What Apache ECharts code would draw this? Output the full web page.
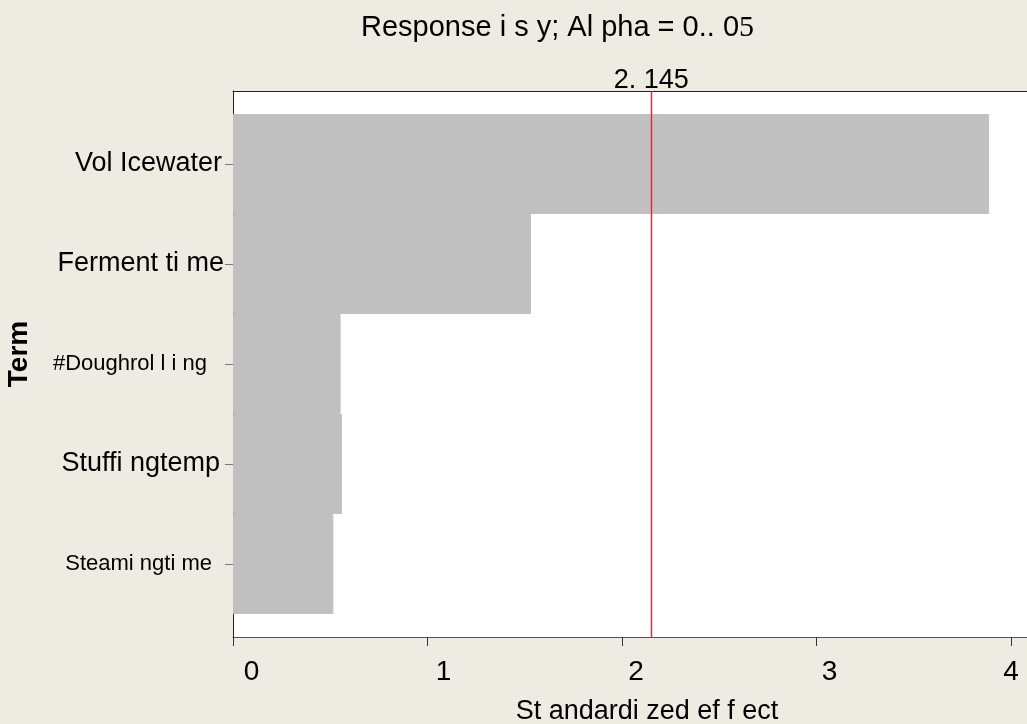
<!DOCTYPE html>
<html>
<head>
<meta charset="utf-8">
<script src="https://cdn.jsdelivr.net/npm/echarts@6/dist/echarts.min.js"></script>
<style>
html,body{margin:0;padding:0;background:#EEEBE2;}
#chart{width:1027px;height:724px;}
</style>
</head>
<body>
<div id="chart"></div>
<script>
// ---- data ----
const categories = ['Vol Icewater', 'Ferment ti me', '#Doughrol l i ng', 'Stuffi ngtemp', 'Steami ngti me'];
const effects = [3.887, 1.532, 0.553, 0.560, 0.516];
const xTicks = [0, 1, 2, 3, 4];
const xTickLabels = ['0', '1', '2', '3', '4'];
const critical = 2.145;
const criticalLabel = '2. 145';
const titleMain = 'Response i s y; Al pha = 0.. 0';
const titleTail = '5';
const xName = 'St andardi zed ef f ect';
const yName = 'Term';

// ---- styles ----
const FONT = 'Liberation Sans, Arial, sans-serif';
const RED = '#E8203C';
const xMax = 4.082;
const yLabelSizes = [27, 27, 22, 27, 22];
const yLabelPadRight = [2, 0, 17, 4, 12];
const xLabelPadLeft = [37, 32, 28, 26, 0];

const yRich = {};
categories.forEach((c, i) => {
  yRich['c' + i] = {fontFamily: FONT, fontSize: yLabelSizes[i], color: '#000', padding: [0, yLabelPadRight[i], 0, 0]};
});
const xRich = {};
xTicks.forEach((t, i) => {
  xRich['x' + i] = {fontFamily: FONT, fontSize: 28, color: '#000', padding: [0, 0, 0, xLabelPadLeft[i]]};
});

const chart = echarts.init(document.getElementById('chart'), null, {renderer: 'canvas'});
const option = {
  backgroundColor: '#EEEBE2',
  animation: false,
  title: {
    text: '{a|' + titleMain + '}{b|' + titleTail + '}',
    left: 361, top: 13, padding: 0,
    textStyle: {
      fontWeight: 'normal',
      rich: {
        a: {fontFamily: FONT, fontSize: 29, fontWeight: 'normal', color: '#000'},
        b: {fontFamily: 'Liberation Serif, Times New Roman, serif', fontSize: 30, fontWeight: 'normal', color: '#000'}
      }
    }
  },
  grid: [
    {left: 233, right: 0, top: 91, bottom: 87, show: true, backgroundColor: '#ffffff', borderWidth: 0, outerBoundsMode: 'none', containLabel: false},
    {left: 233, right: 0, top: 114, height: 500, outerBoundsMode: 'none', containLabel: false}
  ],
  xAxis: [
    {
      gridIndex: 0, type: 'value', min: 0, max: xMax, interval: 1, position: 'bottom',
      axisLine: {show: true, lineStyle: {color: '#555', width: 1}},
      axisTick: {show: true, length: 9, customValues: xTicks, lineStyle: {color: '#333', width: 1}},
      splitLine: {show: false},
      axisLabel: {
        customValues: xTicks,
        margin: 21,
        formatter: function (v) {
          const i = xTicks.indexOf(v);
          return i < 0 ? '' : '{x' + i + '|' + xTickLabels[i] + '}';
        },
        rich: xRich
      },
      name: xName, nameLocation: 'middle', nameGap: 61,
      nameTextStyle: {fontFamily: FONT, fontSize: 27, color: '#000', padding: [0, 0, 0, 34]}
    },
    {
      gridIndex: 0, type: 'value', min: 0, max: xMax, position: 'top',
      axisLine: {show: true, lineStyle: {color: '#222', width: 1}},
      axisTick: {show: false}, axisLabel: {show: false}, splitLine: {show: false}
    },
    {gridIndex: 1, type: 'value', min: 0, max: xMax, show: false}
  ],
  yAxis: [
    {
      gridIndex: 0, type: 'value', min: 0, max: 1,
      axisLine: {show: true, lineStyle: {color: '#222', width: 1}},
      axisTick: {show: false}, axisLabel: {show: false}, splitLine: {show: false}
    },
    {
      gridIndex: 1, type: 'category', data: categories, inverse: true,
      axisLine: {show: false},
      axisTick: {show: true, length: 8, alignWithLabel: true, lineStyle: {color: '#777'}},
      axisLabel: {
        margin: 9,
        formatter: function (v, i) { return '{c' + i + '|' + v + '}'; },
        rich: yRich
      },
      name: yName, nameLocation: 'middle', nameGap: 200, nameRotate: 90,
      nameTextStyle: {fontFamily: FONT, fontSize: 28, fontWeight: 'bold', color: '#000', padding: [0, 0, 0, 20]}
    }
  ],
  series: [
    {
      type: 'bar', xAxisIndex: 2, yAxisIndex: 1, data: effects,
      barCategoryGap: 0, barWidth: '100%',
      itemStyle: {color: '#C0C0C0', borderColor: '#C0C0C0', borderWidth: 1}, z: 2
    },
    {
      type: 'line', xAxisIndex: 0, yAxisIndex: 0, data: [[0, 0]], showSymbol: false,
      lineStyle: {opacity: 0}, z: 5,
      markLine: {
        symbol: 'none', silent: true, animation: false,
        itemStyle: {color: RED},
        lineStyle: {color: RED, width: 1.4, type: 'solid', opacity: 1},
        label: {show: true, position: 'end', distance: -3, formatter: criticalLabel,
                fontFamily: FONT, fontSize: 27, color: '#000'},
        data: [{xAxis: critical, lineStyle: {color: RED, width: 1.4, opacity: 1}}]
      }
    }
  ]
};
chart.setOption(option);
</script>
</body>
</html>
